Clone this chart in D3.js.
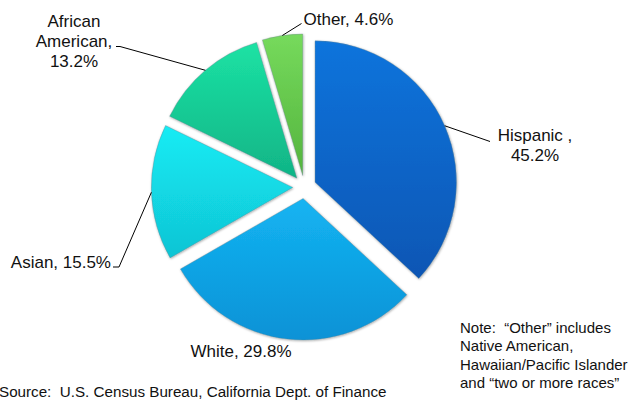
<!DOCTYPE html>
<html>
<head>
<meta charset="utf-8">
<script src="https://cdn.jsdelivr.net/npm/d3@7"></script>
<style>
  body { margin: 0; background: #fff; }
  text { font-family: "Liberation Sans", Arial, sans-serif; fill: #111; white-space: pre; }
</style>
</head>
<body>
<svg id="chart" width="629" height="401"></svg>
<script>
// slice shares as drawn (the Hispanic wedge is drawn as the remainder, 36.9)
const groups = ["Hispanic", "White", "Asian", "African American", "Other"];
const shares = [36.9, 29.8, 15.5, 13.2, 4.6];
const labelLines = [
  ["Hispanic ,", "45.2%"],
  ["White, 29.8%"],
  ["Asian, 15.5%"],
  ["African", "American,", "13.2%"],
  ["Other, 4.6%"]
];
const noteLines = [
  "Note:  \u201cOther\u201d includes",
  "Native American,",
  "Hawaiian/Pacific Islander",
  "and \u201ctwo or more races\u201d"
];
const sourceText = "Source:  U.S. Census Bureau, California Dept. of Finance";

// gradient colours per slice, top -> bottom
const colorTop = ["#0c74dc", "#14b4f2", "#14ecf4", "#1ce2a4", "#76da5c"];
const colorBot = ["#0a56b4", "#0a92d6", "#10c4d4", "#10b486", "#54b43e"];

const cx = 304.4, cy = 187, radius = 141.5, explode = 11.6;

// label layout: anchor, text anchor, first baseline, leader elbow points
const labelLayout = {
  "Hispanic":         { x: 535, y: 141, anchor: "middle", leader: [[490, 141.5]] },
  "White":            { x: 241, y: 357, anchor: "middle", leader: null },
  "Asian":            { x: 111, y: 268, anchor: "end", leader: [[119, 267], [113, 267]] },
  "African American": { x: 74, y: 27, anchor: "middle", leader: [[120, 46.5], [116, 46.5]] },
  "Other":            { x: 303.5, y: 25, anchor: "start", leader: [[301.5, 23.5]] }
};
const lineGap = 19.8;

const svg = d3.select("#chart");
const defs = svg.append("defs");

const shadow = defs.append("filter").attr("id", "shadow")
  .attr("x", "-10%").attr("y", "-10%").attr("width", "120%").attr("height", "120%");
shadow.append("feDropShadow")
  .attr("dx", 0.6).attr("dy", 0.8).attr("stdDeviation", 1.1)
  .attr("flood-color", "#000").attr("flood-opacity", 0.35);

groups.forEach((g, i) => {
  const lg = defs.append("linearGradient").attr("id", "grad" + i)
    .attr("x1", 0).attr("y1", 0).attr("x2", 0).attr("y2", 1);
  lg.append("stop").attr("offset", "0%").attr("stop-color", colorTop[i]);
  lg.append("stop").attr("offset", "100%").attr("stop-color", colorBot[i]);
});

const pie = d3.pie().sort(null).value(d => d);
const arcs = pie(shares);
const arc = d3.arc().innerRadius(0).outerRadius(radius);

const g = svg.append("g").attr("transform", `translate(${cx},${cy})`);

function offset(d) {
  const a = (d.startAngle + d.endAngle) / 2;
  return [explode * Math.sin(a), -explode * Math.cos(a)];
}

g.selectAll("path.slice")
  .data(arcs)
  .join("path")
  .attr("class", "slice")
  .attr("transform", d => `translate(${offset(d)})`)
  .attr("d", arc)
  .attr("fill", (d, i) => `url(#grad${i})`)
  .attr("stroke", "#6f8a94")
  .attr("stroke-opacity", 0.55)
  .attr("stroke-width", 0.7)
  .attr("filter", "url(#shadow)");

// leader lines from the outer edge of each slice
const lineGen = d3.line();
arcs.forEach((d, i) => {
  const lay = labelLayout[groups[i]];
  if (!lay.leader) return;
  const a = (d.startAngle + d.endAngle) / 2;
  const o = offset(d);
  const start = [cx + o[0] + radius * Math.sin(a), cy + o[1] - radius * Math.cos(a)];
  svg.append("path")
    .attr("d", lineGen([start].concat(lay.leader)))
    .attr("fill", "none")
    .attr("stroke", "#000")
    .attr("stroke-width", 1);
});

// slice labels
groups.forEach((grp, i) => {
  const lay = labelLayout[grp];
  const t = svg.append("text")
    .attr("text-anchor", lay.anchor)
    .style("font-size", "17px");
  labelLines[i].forEach((line, j) => {
    t.append("tspan").attr("x", lay.x).attr("y", lay.y + j * lineGap).text(line);
  });
});

// note block
const note = svg.append("text").style("font-size", "15px");
noteLines.forEach((line, j) => {
  note.append("tspan").attr("x", 460).attr("y", 332.5 + j * 18.5).text(line);
});

svg.append("text")
  .attr("x", -1).attr("y", 397)
  .style("font-size", "15.2px")
  .text(sourceText);
</script>
</body>
</html>
